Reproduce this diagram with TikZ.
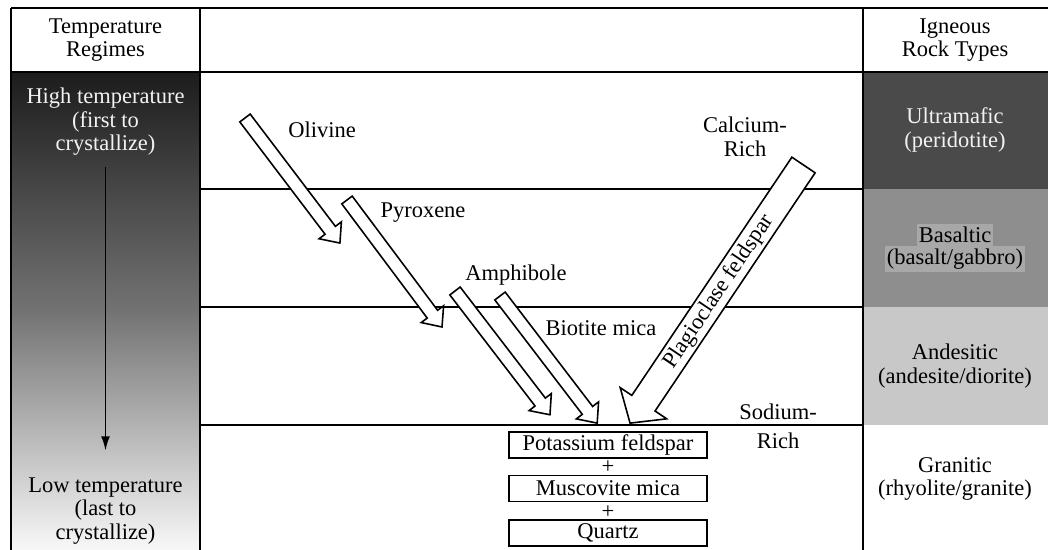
\documentclass[tikz,border=0pt]{standalone}
\usepackage{fontspec}
\setmainfont{Liberation Serif}
\usetikzlibrary{arrows.meta}

\definecolor{ultramaficgray}{HTML}{4A4A4A}
\definecolor{basalticgray}{HTML}{8E8E8F}
\definecolor{basaltlight}{HTML}{A8A8A9}
\definecolor{andesiticgray}{HTML}{C8C8C9}
\definecolor{hotgray}{HTML}{1C1C1C}
\definecolor{coolgray}{HTML}{F8F8F8}

\tikzset{
  gridline/.style={line width=0.9pt},
  % block arrow: length / half shaft / half head / head length (in px)
  pics/blockarrow/.style args={#1/#2/#3/#4}{code={
    \draw[fill=white, line width=0.9pt, line join=miter]
      (0,-#2) -- (#1-#4,-#2) -- (#1-#4,-#3) -- (#1,0) -- (#1-#4,#3) -- (#1-#4,#2) -- (0,#2) -- cycle;
  }},
  mineralbox/.style={draw, line width=0.9pt, minimum width=3.96cm,
    minimum height=0.52cm, inner sep=0pt},
  hlline/.style={fill=basaltlight, inner sep=1pt, text height=9.4pt, text depth=3pt}
}

\begin{document}
\begin{tikzpicture}[x=0.02cm, y=-0.02cm,
    every node/.style={align=center, font=\fontsize{12.8}{13.4}\selectfont}]
    \useasboundingbox (0,0) rectangle (1048,550);

    % Temperature column and rock type bands
    \shade[top color=hotgray, bottom color=coolgray, middle color=gray!90!black] (11,72) rectangle (200,550);
    \fill[ultramaficgray] (863,72) rectangle (1048,189);
    \fill[basalticgray] (863,189) rectangle (1048,307);
    \fill[andesiticgray] (863,307) rectangle (1048,425);

    % Frame and rows
    \draw[line width=1.6pt] (11,8) -- (1048,8);
    \draw[gridline] (11,8) -- (11,550);
    \draw[gridline] (200,8) -- (200,550);
    \draw[gridline] (863,8) -- (863,550);
    \draw[gridline] (11,72) -- (1048,72);
    \draw[gridline] (200,189) -- (863,189);
    \draw[gridline] (200,307) -- (863,307);
    \draw[gridline] (200,425) -- (863,425);

    % Headers
    \node (tempregimes) at (105.5,40) {Temperature\\Regimes};
    \node (rocktypes) at (955,40) {Igneous\\Rock Types};

    % Temperature regimes
    \node[text=white!95!black] (hightemp) at (105.5,122) {High temperature\\(first to\\crystallize)};
    \node (lowtemp) at (105.5,511) {Low temperature\\(last to\\crystallize)};
    \draw[line width=0.9pt, -{Latex[length=8pt,width=5pt]}, shorten <=0.1cm, shorten >=0.42cm] (hightemp) -- (lowtemp);

    % Rock types
    \node[text=white!95!black] (ultramafic) at (955,130) {Ultramafic\\(peridotite)};
    \node[hlline] (basaltic) at (955,237) {Basaltic};
    \node[hlline] (basaltgabbro) at (955,259) {(basalt/gabbro)};
    \node (andesitic) at (955,366) {Andesitic\\(andesite/diorite)};
    \node (granitic) at (955,479) {Granitic\\(rhyolite/granite)};

    % Discontinuous series
    \pic[rotate=-52.8] at (245,118) {blockarrow=157/6.5/14/16};
    \pic[rotate=-53.2] at (347,200) {blockarrow=158.6/6.5/14/16};
    \pic[rotate=-52.5] at (455,291) {blockarrow=156/6.5/14/16};
    \pic[rotate=-52.6] at (500,296) {blockarrow=160/6.5/14/16};
    \node (olivine) at (322,130) {Olivine};
    \node (pyroxene) at (423,213) {Pyroxene};
    \node (amphibole) at (516,275) {Amphibole};
    \node (biotite) at (601,328) {Biotite mica};

    % Continuous series
    \pic[rotate=236.1] at (803.5,165) {blockarrow=311/14/28/24};
    \node[rotate=56.1] (plagioclase) at (719,292) {Plagioclase feldspar};
    \node (calcium) at (745,137) {Calcium-\\Rich};
    \node (sodium) at (778,426) {Sodium-\\[3pt]Rich};

    % Last minerals
    \node[mineralbox] (kfeldspar) at (608,445) {Potassium feldspar};
    \node (plusone) at (608,467) {+};
    \node[mineralbox] (muscovite) at (608,488.5) {Muscovite mica};
    \node (plustwo) at (608,512) {+};
    \node[mineralbox] (quartz) at (608,533) {Quartz};
\end{tikzpicture}
\end{document}
